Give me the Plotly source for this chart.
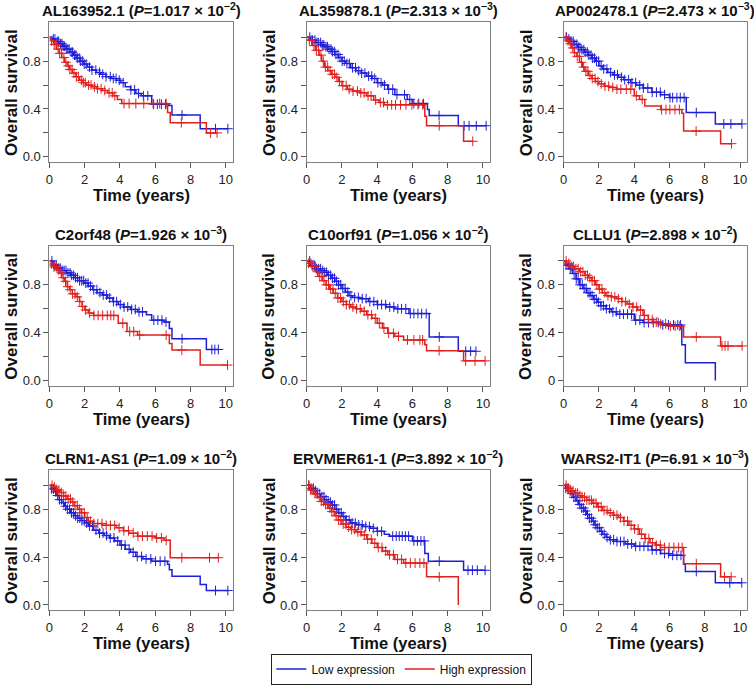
import plotly.graph_objects as go

# ---------------- data ----------------
genes = ["AL163952.1", "AL359878.1", "AP002478.1",
         "C2orf48", "C10orf91", "CLLU1",
         "CLRN1-AS1", "ERVMER61-1", "WARS2-IT1"]
p_mant = ["1.017", "2.313", "2.473", "1.926", "1.056", "2.898", "1.09", "3.892", "6.91"]
p_exp = ["−2", "−3", "−3", "−3", "−2", "−2", "−2", "−2", "−3"]
zero_label = ["0.0", "0.0", "0.0", "0.0", "0.0", "0", "0.0", "0.0", "0.0"]

x_ticks = [0, 2, 4, 6, 8, 10]
y_ticks = [0.0, 0.2, 0.4, 0.6, 0.8, 1.0]

# Low expression (blue): event times / survival
low_t = [
    [0, 0.15, 0.35, 0.55, 0.75, 0.95, 1.15, 1.35, 1.55, 1.75, 1.95, 2.15, 2.4, 2.65, 2.9, 3.2, 3.5, 3.8, 4.05, 4.3, 4.6, 4.9, 5.2, 5.8, 6.7, 6.95, 8.55],
    [0, 0.2, 0.5, 0.8, 1.0, 1.2, 1.4, 1.6, 1.8, 2.0, 2.2, 2.5, 2.8, 3.1, 3.4, 3.7, 4.0, 4.3, 4.6, 5.0, 5.7, 6.0, 6.85, 6.95, 8.6],
    [0, 0.2, 0.4, 0.6, 0.8, 1.0, 1.2, 1.4, 1.6, 1.8, 2.0, 2.2, 2.5, 2.8, 3.1, 3.4, 3.8, 4.1, 4.5, 5.0, 5.5, 6.0, 6.95, 8.6],
    [0, 0.2, 0.45, 0.7, 0.95, 1.2, 1.45, 1.7, 1.95, 2.2, 2.45, 2.7, 3.0, 3.3, 3.6, 3.9, 4.2, 4.6, 5.0, 5.5, 5.8, 6.5, 6.8, 6.95, 8.9],
    [0, 0.2, 0.5, 0.8, 1.0, 1.2, 1.4, 1.6, 1.8, 2.0, 2.2, 2.4, 2.6, 3.0, 3.5, 4.0, 4.5, 5.0, 5.8, 6.95, 8.6],
    [0, 0.1, 0.3, 0.5, 0.7, 0.9, 1.1, 1.3, 1.5, 1.7, 1.9, 2.1, 2.4, 2.7, 3.0, 4.0, 4.5, 5.6, 6.7, 6.9, 8.6],
    [0, 0.1, 0.25, 0.4, 0.55, 0.7, 0.85, 1.0, 1.2, 1.4, 1.6, 1.8, 2.0, 2.2, 2.5, 2.8, 3.1, 3.4, 3.7, 4.0, 4.3, 4.6, 4.9, 5.3, 5.8, 6.7, 6.8, 6.95, 8.55, 8.9],
    [0, 0.2, 0.4, 0.6, 0.8, 1.0, 1.2, 1.4, 1.6, 1.8, 2.0, 2.2, 2.5, 2.8, 3.2, 3.6, 4.0, 4.4, 4.7, 6.0, 6.7, 6.9, 8.9],
    [0, 0.1, 0.25, 0.4, 0.55, 0.7, 0.85, 1.0, 1.15, 1.3, 1.45, 1.6, 1.75, 1.9, 2.05, 2.2, 2.4, 2.6, 3.0, 3.5, 4.0, 5.0, 5.5, 6.0, 6.8, 6.9, 8.6],
]
low_s = [
    [1, 0.985, 0.965, 0.945, 0.925, 0.9, 0.875, 0.85, 0.825, 0.8, 0.775, 0.75, 0.725, 0.705, 0.69, 0.67, 0.655, 0.64, 0.62, 0.585, 0.56, 0.53, 0.51, 0.44, 0.43, 0.35, 0.235],
    [1, 0.975, 0.955, 0.935, 0.92, 0.9, 0.88, 0.855, 0.83, 0.8, 0.78, 0.745, 0.72, 0.7, 0.675, 0.655, 0.62, 0.6, 0.565, 0.52, 0.48, 0.445, 0.395, 0.345, 0.26],
    [1, 0.985, 0.965, 0.94, 0.915, 0.895, 0.875, 0.85, 0.825, 0.8, 0.76, 0.735, 0.705, 0.685, 0.665, 0.645, 0.62, 0.6, 0.575, 0.54, 0.52, 0.495, 0.37, 0.275],
    [1, 0.965, 0.94, 0.92, 0.9, 0.88, 0.86, 0.835, 0.815, 0.79, 0.76, 0.735, 0.715, 0.69, 0.66, 0.635, 0.615, 0.595, 0.575, 0.55, 0.505, 0.49, 0.435, 0.35, 0.26],
    [1, 0.96, 0.935, 0.92, 0.905, 0.88, 0.855, 0.83, 0.8, 0.77, 0.74, 0.71, 0.695, 0.685, 0.66, 0.635, 0.615, 0.6, 0.56, 0.365, 0.245],
    [1, 0.965, 0.935, 0.895, 0.85, 0.8, 0.77, 0.735, 0.71, 0.68, 0.655, 0.625, 0.6, 0.575, 0.555, 0.505, 0.485, 0.465, 0.3, 0.15, 0.0],
    [1, 0.97, 0.945, 0.915, 0.88, 0.855, 0.825, 0.8, 0.77, 0.745, 0.725, 0.705, 0.685, 0.66, 0.625, 0.6, 0.58, 0.56, 0.535, 0.5, 0.465, 0.44, 0.405, 0.385, 0.365, 0.34, 0.295, 0.24, 0.17, 0.12],
    [1, 0.975, 0.955, 0.93, 0.905, 0.88, 0.86, 0.835, 0.8, 0.77, 0.74, 0.71, 0.685, 0.67, 0.655, 0.64, 0.615, 0.59, 0.575, 0.535, 0.43, 0.365, 0.29],
    [1, 0.975, 0.955, 0.93, 0.9, 0.87, 0.84, 0.81, 0.785, 0.755, 0.725, 0.7, 0.67, 0.645, 0.615, 0.59, 0.565, 0.545, 0.53, 0.51, 0.49, 0.46, 0.43, 0.415, 0.34, 0.28, 0.185],
]
low_cens = [
    [0.22, 0.31, 0.44, 0.52, 0.63, 0.71, 0.78, 0.86, 0.95, 1.04, 1.12, 1.23, 1.31, 1.42, 1.5, 1.58, 1.69, 1.77, 1.88, 1.97, 2.08, 2.27, 2.41, 2.63, 2.84, 3.02, 3.21, 3.45, 3.62, 3.78, 3.96, 4.18, 4.62, 4.83, 5.05, 5.33, 5.58, 5.91, 6.12, 6.35, 6.58, 7.52, 9.42, 10.12],
    [0.18, 0.33, 0.47, 0.58, 0.66, 0.79, 0.88, 0.97, 1.09, 1.18, 1.27, 1.38, 1.46, 1.57, 1.66, 1.78, 1.89, 2.01, 2.13, 2.28, 2.42, 2.6, 2.77, 2.95, 3.12, 3.3, 3.51, 3.69, 3.86, 4.04, 4.22, 4.41, 4.65, 4.88, 5.12, 5.55, 5.85, 6.08, 6.36, 6.62, 7.51, 8.93, 9.21, 9.62, 10.18],
    [0.16, 0.29, 0.42, 0.54, 0.63, 0.74, 0.83, 0.92, 1.03, 1.14, 1.22, 1.34, 1.43, 1.55, 1.64, 1.75, 1.86, 1.98, 2.12, 2.27, 2.45, 2.66, 2.88, 3.05, 3.27, 3.46, 3.68, 3.87, 4.08, 4.31, 4.52, 4.77, 5.02, 5.26, 5.48, 5.72, 6.03, 6.18, 6.42, 6.61, 6.83, 7.52, 9.08, 9.48, 10.11],
    [0.14, 0.27, 0.38, 0.49, 0.61, 0.72, 0.83, 0.94, 1.05, 1.17, 1.26, 1.37, 1.48, 1.59, 1.71, 1.83, 1.94, 2.06, 2.19, 2.33, 2.51, 2.69, 2.86, 3.05, 3.24, 3.42, 3.63, 3.81, 4.02, 4.23, 4.44, 4.66, 4.87, 5.08, 5.28, 5.92, 6.15, 6.38, 6.61, 7.52, 9.21, 9.38, 9.58],
    [0.17, 0.31, 0.44, 0.56, 0.68, 0.79, 0.91, 1.02, 1.13, 1.24, 1.36, 1.47, 1.58, 1.69, 1.81, 1.93, 2.05, 2.18, 2.33, 2.51, 2.72, 2.93, 3.15, 3.37, 3.58, 3.81, 4.02, 4.25, 4.48, 4.71, 4.94, 5.17, 5.38, 5.62, 5.88, 6.08, 6.31, 6.52, 6.78, 7.52, 9.02, 9.3, 9.6],
    [0.13, 0.25, 0.37, 0.48, 0.59, 0.71, 0.82, 0.93, 1.05, 1.16, 1.27, 1.38, 1.49, 1.61, 1.73, 1.85, 1.97, 2.11, 2.26, 2.42, 2.6, 2.79, 2.98, 3.18, 3.39, 3.62, 3.85, 4.08, 4.32, 4.56, 4.81, 5.08, 5.36, 5.62, 5.94, 6.23, 6.47, 6.63],
    [0.12, 0.23, 0.35, 0.46, 0.57, 0.68, 0.8, 0.91, 1.02, 1.14, 1.25, 1.36, 1.48, 1.6, 1.72, 1.84, 1.97, 2.11, 2.27, 2.45, 2.64, 2.84, 3.04, 3.24, 3.45, 3.66, 3.87, 4.08, 4.29, 4.52, 4.75, 4.98, 5.22, 5.48, 5.75, 6.02, 6.28, 6.55, 9.42, 10.12],
    [0.13, 0.25, 0.38, 0.5, 0.62, 0.74, 0.86, 0.98, 1.1, 1.22, 1.34, 1.46, 1.58, 1.7, 1.83, 1.96, 2.1, 2.25, 2.41, 2.58, 2.76, 2.95, 3.15, 3.35, 3.56, 3.78, 4.01, 4.25, 4.88, 5.08, 5.25, 5.42, 5.6, 5.78, 6.08, 6.28, 6.48, 6.66, 7.52, 9.15, 9.4, 9.68, 10.12],
    [0.12, 0.24, 0.36, 0.47, 0.58, 0.69, 0.8, 0.91, 1.02, 1.13, 1.24, 1.35, 1.46, 1.57, 1.68, 1.79, 1.9, 2.02, 2.15, 2.3, 2.46, 2.64, 2.83, 3.02, 3.22, 3.42, 3.63, 3.85, 4.08, 4.32, 4.55, 4.78, 5.02, 5.25, 5.48, 5.72, 5.95, 6.18, 6.42, 6.65, 7.52, 9.42, 10.1],
]

# High expression (red)
high_t = [
    [0, 0.1, 0.25, 0.4, 0.55, 0.7, 0.85, 1.0, 1.15, 1.3, 1.5, 1.7, 1.9, 2.1, 2.4, 2.7, 3.0, 3.3, 3.6, 3.85, 4.1, 6.7, 6.85, 8.9],
    [0, 0.1, 0.3, 0.5, 0.7, 0.85, 1.0, 1.2, 1.4, 1.6, 1.8, 2.0, 2.3, 2.6, 3.0, 3.4, 3.8, 4.1, 4.4, 6.7, 6.8, 8.9],
    [0, 0.15, 0.3, 0.45, 0.6, 0.75, 0.9, 1.05, 1.2, 1.4, 1.6, 1.8, 2.0, 2.3, 2.6, 3.0, 4.0, 4.3, 4.6, 5.5, 6.7, 6.8, 8.9],
    [0, 0.1, 0.25, 0.4, 0.55, 0.7, 0.85, 1.0, 1.15, 1.3, 1.5, 1.7, 1.85, 2.0, 2.2, 2.5, 3.9, 4.4, 5.0, 6.8, 6.95, 8.55],
    [0, 0.1, 0.3, 0.5, 0.7, 0.9, 1.1, 1.3, 1.5, 1.75, 2.0, 2.25, 2.5, 2.8, 3.1, 3.4, 3.7, 4.0, 4.3, 4.6, 5.0, 5.5, 6.7, 6.8, 8.9],
    [0, 0.15, 0.35, 0.6, 0.9, 1.2, 1.4, 1.6, 1.8, 2.0, 2.2, 2.4, 2.7, 3.0, 3.3, 3.6, 3.9, 4.2, 4.5, 4.8, 5.1, 5.5, 6.0, 6.8, 8.9],
    [0, 0.2, 0.4, 0.6, 0.8, 1.0, 1.2, 1.4, 1.6, 1.8, 2.0, 2.2, 2.5, 3.0, 3.8, 4.2, 4.5, 5.0, 6.0, 6.5, 6.85],
    [0, 0.2, 0.4, 0.6, 0.8, 1.0, 1.2, 1.4, 1.6, 1.8, 2.0, 2.25, 2.5, 2.8, 3.1, 3.4, 3.7, 4.0, 4.3, 4.6, 5.0, 5.5, 6.8, 8.6],
    [0, 0.2, 0.4, 0.6, 0.8, 1.0, 1.3, 1.6, 1.9, 2.2, 2.5, 2.8, 3.1, 3.4, 3.7, 4.0, 4.3, 4.6, 4.9, 5.2, 5.5, 6.8, 8.9],
]
high_s = [
    [1, 0.97, 0.94, 0.9, 0.865, 0.83, 0.79, 0.76, 0.73, 0.7, 0.67, 0.64, 0.62, 0.6, 0.585, 0.57, 0.555, 0.535, 0.51, 0.48, 0.445, 0.37, 0.285, 0.2],
    [1, 0.975, 0.93, 0.89, 0.85, 0.8, 0.75, 0.72, 0.69, 0.665, 0.63, 0.595, 0.565, 0.55, 0.535, 0.51, 0.475, 0.455, 0.435, 0.34, 0.26, 0.13],
    [1, 0.97, 0.945, 0.91, 0.87, 0.84, 0.79, 0.75, 0.715, 0.68, 0.655, 0.63, 0.61, 0.59, 0.58, 0.565, 0.51, 0.48, 0.425, 0.395, 0.365, 0.215, 0.11],
    [1, 0.975, 0.95, 0.925, 0.9, 0.86, 0.83, 0.785, 0.76, 0.725, 0.7, 0.66, 0.62, 0.59, 0.565, 0.545, 0.48, 0.41, 0.38, 0.31, 0.255, 0.13],
    [1, 0.98, 0.955, 0.91, 0.87, 0.835, 0.8, 0.765, 0.73, 0.69, 0.66, 0.635, 0.615, 0.6, 0.58, 0.55, 0.52, 0.48, 0.44, 0.395, 0.37, 0.34, 0.3, 0.25, 0.165],
    [1, 0.98, 0.955, 0.935, 0.91, 0.88, 0.86, 0.835, 0.8, 0.765, 0.735, 0.71, 0.7, 0.685, 0.66, 0.64, 0.615, 0.59, 0.545, 0.51, 0.49, 0.475, 0.455, 0.365, 0.29],
    [1, 0.985, 0.96, 0.94, 0.91, 0.885, 0.86, 0.83, 0.8, 0.77, 0.73, 0.7, 0.68, 0.665, 0.645, 0.62, 0.6, 0.575, 0.56, 0.54, 0.395],
    [1, 0.96, 0.93, 0.9, 0.865, 0.84, 0.81, 0.78, 0.745, 0.71, 0.675, 0.65, 0.63, 0.61, 0.585, 0.55, 0.515, 0.48, 0.45, 0.42, 0.38, 0.35, 0.235, 0.0],
    [1, 0.975, 0.955, 0.935, 0.915, 0.9, 0.875, 0.85, 0.82, 0.79, 0.77, 0.75, 0.73, 0.7, 0.665, 0.635, 0.59, 0.555, 0.52, 0.5, 0.48, 0.345, 0.235],
]
high_cens = [
    [0.12, 0.27, 0.38, 0.49, 0.58, 0.69, 0.82, 0.93, 1.07, 1.16, 1.28, 1.39, 1.53, 1.64, 1.81, 1.92, 2.03, 2.22, 2.36, 2.55, 2.72, 2.93, 3.14, 3.38, 3.56, 3.71, 4.23, 4.52, 4.9, 5.35, 5.88, 6.25, 6.62, 7.48, 9.13, 9.51],
    [0.15, 0.28, 0.41, 0.55, 0.68, 0.81, 0.94, 1.06, 1.19, 1.33, 1.45, 1.58, 1.71, 1.86, 2.05, 2.24, 2.41, 2.63, 2.88, 3.07, 3.26, 3.48, 3.65, 3.91, 4.18, 4.36, 4.58, 4.82, 5.04, 5.32, 5.63, 5.97, 6.31, 6.58, 7.52, 9.42],
    [0.13, 0.24, 0.37, 0.51, 0.62, 0.77, 0.89, 1.01, 1.13, 1.26, 1.37, 1.49, 1.62, 1.78, 1.94, 2.13, 2.34, 2.55, 2.78, 3.02, 3.24, 3.55, 3.8, 4.12, 4.45, 5.55, 5.8, 6.02, 6.31, 6.56, 7.51, 9.52],
    [0.12, 0.26, 0.39, 0.52, 0.66, 0.78, 0.91, 1.04, 1.18, 1.31, 1.44, 1.58, 1.72, 1.88, 2.05, 2.28, 2.52, 2.76, 3.02, 3.28, 3.48, 3.65, 4.16, 4.55, 4.78, 5.12, 6.62, 7.51, 10.1],
    [0.11, 0.24, 0.36, 0.49, 0.61, 0.74, 0.86, 0.98, 1.11, 1.24, 1.36, 1.49, 1.62, 1.77, 1.92, 2.08, 2.25, 2.43, 2.62, 2.83, 3.04, 3.26, 3.47, 3.68, 3.89, 4.12, 4.38, 4.65, 4.92, 5.21, 5.72, 6.08, 6.42, 6.58, 7.51, 9.02, 9.55, 10.12],
    [0.14, 0.29, 0.43, 0.56, 0.69, 0.82, 0.96, 1.09, 1.22, 1.35, 1.48, 1.61, 1.74, 1.88, 2.02, 2.17, 2.33, 2.51, 2.7, 2.9, 3.1, 3.3, 3.51, 3.72, 3.93, 4.14, 4.36, 4.58, 4.8, 5.02, 5.25, 5.5, 5.78, 6.05, 6.32, 6.58, 7.52, 8.98, 9.15, 9.32, 10.12],
    [0.15, 0.28, 0.41, 0.54, 0.67, 0.8, 0.93, 1.06, 1.19, 1.32, 1.45, 1.58, 1.71, 1.84, 1.98, 2.14, 2.32, 2.52, 2.74, 2.98, 3.22, 3.46, 3.7, 3.95, 4.22, 4.48, 4.75, 5.02, 5.28, 5.55, 5.82, 6.08, 6.35, 6.62, 7.51, 9.08, 9.58],
    [0.11, 0.23, 0.35, 0.47, 0.59, 0.71, 0.83, 0.95, 1.07, 1.19, 1.31, 1.43, 1.55, 1.67, 1.8, 1.93, 2.07, 2.22, 2.38, 2.55, 2.72, 2.9, 3.08, 3.27, 3.46, 3.66, 3.86, 4.06, 4.27, 4.48, 4.7, 4.92, 5.15, 5.38, 5.62, 5.88, 6.15, 6.42, 6.65, 7.52],
    [0.14, 0.27, 0.4, 0.53, 0.66, 0.79, 0.92, 1.05, 1.18, 1.31, 1.44, 1.57, 1.7, 1.84, 1.98, 2.13, 2.29, 2.46, 2.64, 2.83, 3.02, 3.22, 3.42, 3.62, 3.82, 4.02, 4.22, 4.42, 4.62, 4.83, 5.04, 5.25, 5.48, 5.72, 5.98, 6.25, 6.52, 6.72, 7.52, 9.12, 9.5],
]

# ---------------- layout / style ----------------
W, H = 754, 688
FONT = "Liberation Sans, Arial, sans-serif"
BLUE = "#1f1fd8"
RED = "#e0201e"
FRAME = "#808080"
col_left = [45.7, 304.3, 562.7]
row_top = [22.3, 246.7, 471.7]
PW, PH = 184.5, 140.4


def km_at(ts, ss, t):
    v = ss[0]
    for ti, si in zip(ts, ss):
        if ti <= t:
            v = si
        else:
            break
    return v


def curve(ts, ss, cens):
    xs, ys = list(ts), list(ss)
    end = max(cens) if cens else ts[-1]
    if end > ts[-1] and ss[-1] > 0:
        xs.append(end)
        ys.append(ss[-1])
    cy = [km_at(ts, ss, c) for c in cens]
    return xs, ys, cy


fig = go.Figure()
layout = {}
annotations = []

for i in range(9):
    r, c = divmod(i, 3)
    L, T = col_left[c], row_top[r]
    sfx = "" if i == 0 else str(i + 1)
    xref, yref = "x" + sfx, "y" + sfx

    for ts, ss, cens, col, name, first in [
        (low_t[i], low_s[i], low_cens[i], BLUE, "Low expression", i == 0),
        (high_t[i], high_s[i], high_cens[i], RED, "High expression", i == 0),
    ]:
        xs, ys, cy = curve(ts, ss, cens)
        fig.add_trace(go.Scatter(
            x=xs, y=ys, mode="lines", line=dict(color=col, width=1.5, shape="hv"),
            name=name, showlegend=first, legendgroup=name, xaxis=xref, yaxis=yref,
            hoverinfo="skip"))
        fig.add_trace(go.Scatter(
            x=cens, y=cy, mode="markers",
            marker=dict(symbol="cross-thin", size=7, line=dict(color=col, width=1)),
            showlegend=False, legendgroup=name, xaxis=xref, yaxis=yref, hoverinfo="skip"))

    layout["xaxis" + sfx] = dict(
        domain=[L / W, (L + PW) / W], anchor=yref, range=[0, 10.41],
        tickvals=x_ticks, ticks="outside", ticklen=5, tickcolor="#555", tickwidth=1,
        showline=True, linecolor=FRAME, linewidth=1, mirror=True,
        showgrid=False, zeroline=False, ticklabeloverflow="allow",
        tickfont=dict(family=FONT, size=13, color="#222"))
    layout["yaxis" + sfx] = dict(
        domain=[1 - (T + PH) / H, 1 - T / H], anchor=xref, range=[-0.045, 1.125],
        tickvals=y_ticks, ticktext=[zero_label[i], "", "0.4", "", "0.8", ""],
        ticks="outside", ticklen=5, tickcolor="#555", tickwidth=1,
        showline=True, linecolor=FRAME, linewidth=1, mirror=True,
        showgrid=False, zeroline=False,
        tickfont=dict(family=FONT, size=13, color="#222"))

    cx = (L + PW / 2) / W
    annotations.append(dict(
        text=f"<b>{genes[i]} (<i>P</i>={p_mant[i]} × 10<sup>{p_exp[i]}</sup>)</b>",
        x=cx, y=1 - (T - 13.0) / H, xref="paper", yref="paper",
        xanchor="center", yanchor="middle", showarrow=False,
        font=dict(family=FONT, size=15, color="#111")))
    annotations.append(dict(
        text="<b>Time (years)</b>", x=cx, y=1 - (T + PH + 33) / H,
        xref="paper", yref="paper", xanchor="center", yanchor="middle",
        showarrow=False, font=dict(family=FONT, size=16.5, color="#111")))
    annotations.append(dict(
        text="<b>Overall survival</b>", x=(L - 38) / W, y=1 - (T + PH / 2) / H,
        xref="paper", yref="paper", xanchor="center", yanchor="middle",
        textangle=-90, showarrow=False, font=dict(family=FONT, size=17, color="#111")))

fig.update_layout(
    width=W, height=H, margin=dict(l=0, r=0, t=0, b=0),
    paper_bgcolor="white", plot_bgcolor="white",
    annotations=annotations,
    showlegend=True,
    legend=dict(orientation="h", x=400 / W, y=1 - 671 / H, xanchor="center", yanchor="middle",
                bordercolor="#222", borderwidth=1, bgcolor="white",
                font=dict(family=FONT, size=12, color="#111"),
                itemwidth=30, tracegroupgap=0),
    **layout,
)

fig.write_html(
    "out.html",
    config={"displayModeBar": False},
    post_script="document.body.style.margin='0';document.body.style.overflow='hidden';",
)
